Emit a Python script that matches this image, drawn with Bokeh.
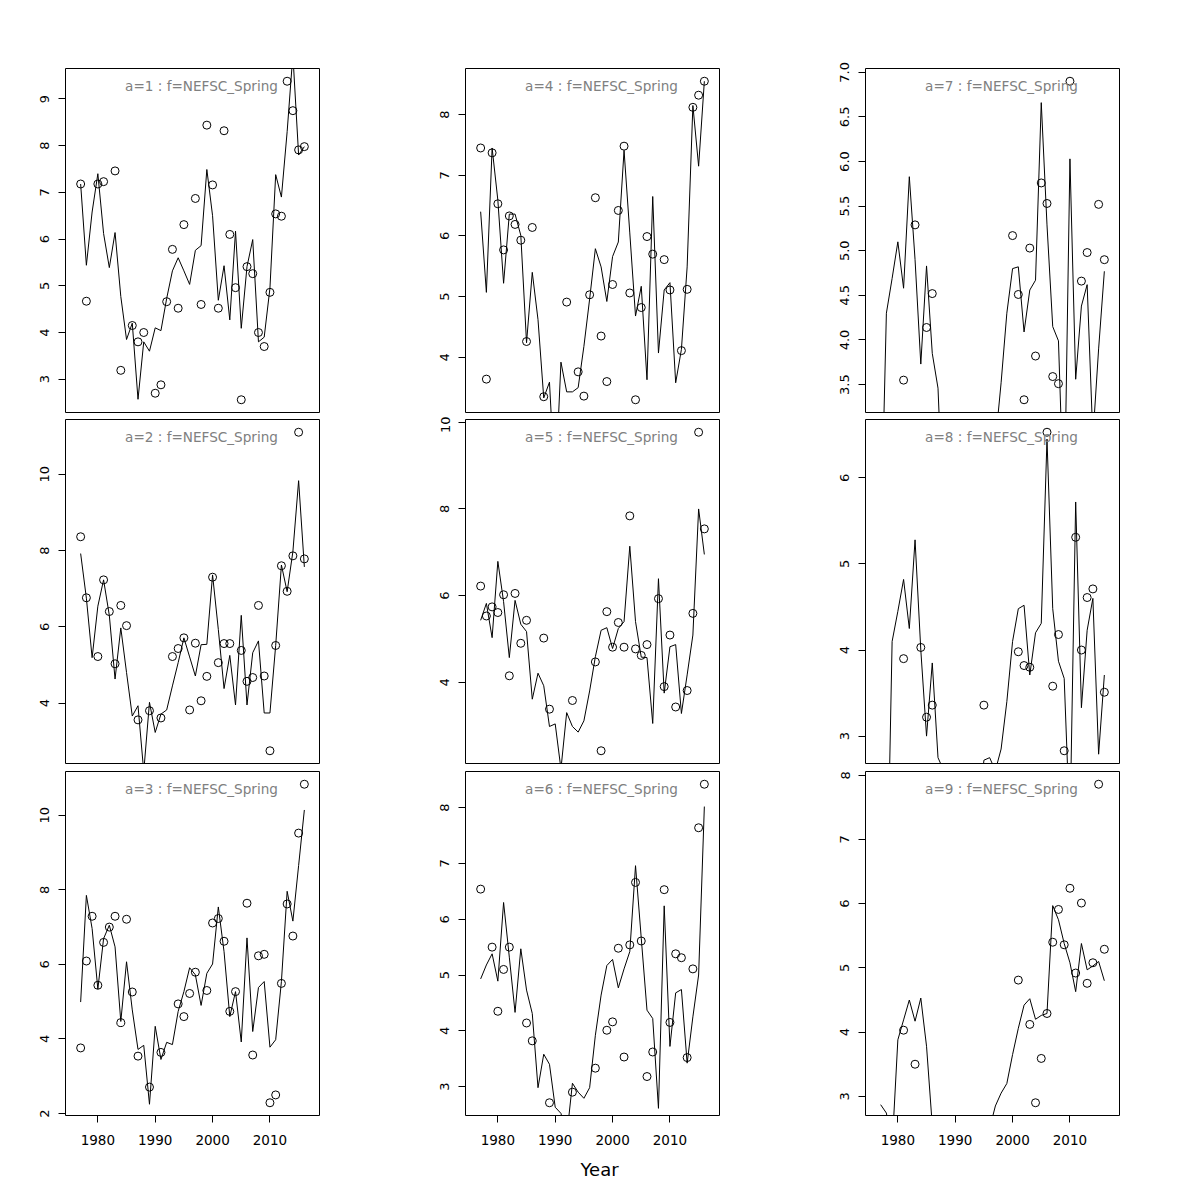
import numpy as np
from bokeh.plotting import figure
from bokeh.layouts import gridplot
from bokeh.models import Range1d, FixedTicker, Title
from bokeh.core.properties import value
from bokeh.embed import file_html
from bokeh.resources import INLINE

N = None
years = list(range(1977, 2017))
fleet = "NEFSC_Spring"
x_label = "Year"
x_ticks = [1980, 1990, 2000, 2010]

# ---- observed (points) and predicted (line) per age ----
obs_a1 = [7.18, 4.67, N, 7.18, 7.23, N, 7.46, 3.19, N, 4.15,
          3.80, 4.00, N, 2.70, 2.88, 4.66, 5.78, 4.52, 6.31, N,
          6.87, 4.60, 8.44, 7.16, 4.52, 8.32, 6.10, 4.96, 2.56, 5.41,
          5.26, 4.00, 3.70, 4.86, 6.54, 6.49, 9.38, 8.75, 7.91, 7.98]
pred_a1 = [7.18, 5.44, 6.58, 7.40, 6.12, 5.39, 6.14, 4.77, 3.85, 4.20,
           2.57, 3.80, 3.60, 4.10, 4.04, 4.73, 5.32, 5.60, 5.32, 5.03,
           5.76, 5.86, 7.49, 6.50, 4.69, 5.43, 4.27, 6.17, 4.09, 5.41,
           5.99, 3.80, 3.90, 4.95, 7.38, 6.90, 8.30, 9.95, 7.80, 7.98]

obs_a2 = [8.36, 6.76, N, 5.22, 7.23, 6.40, 5.03, 6.56, 6.03, N,
          3.56, N, 3.80, N, 3.61, N, 5.22, 5.43, 5.71, 3.82,
          5.57, 4.06, 4.70, 7.30, 5.06, 5.56, 5.56, N, 5.38, 4.57,
          4.67, 6.56, 4.71, 2.75, 5.51, 7.60, 6.93, 7.86, 11.10, 7.78]
pred_a2 = [7.92, 6.75, 5.19, 6.54, 7.23, 6.30, 4.63, 5.97, 4.80, 3.66,
           3.93, 2.20, 4.02, 3.23, 3.71, 3.82, 4.45, 5.06, 5.71, 5.21,
           4.71, 5.53, 5.54, 7.36, 5.93, 4.38, 5.25, 3.95, 6.30, 3.95,
           5.32, 5.63, 3.74, 3.74, 5.51, 7.62, 6.92, 7.97, 9.83, 7.57]

obs_a3 = [3.76, 6.09, 7.29, 5.44, 6.59, 7.00, 7.29, 4.44, 7.21, 5.26,
          3.54, N, 2.71, N, 3.64, N, N, 4.94, 4.60, 5.22,
          5.79, N, 5.30, 7.11, 7.23, 6.62, 4.74, 5.27, N, 7.64,
          3.57, 6.23, 6.27, 2.29, 2.50, 5.49, 7.62, 6.76, 9.52, 10.83]
pred_a3 = [4.99, 7.85, 6.96, 5.34, 6.69, 7.05, 6.47, 4.47, 6.07, 4.78,
           3.72, 3.83, 2.25, 4.34, 3.45, 3.91, 3.85, 4.74, 5.27, 5.91,
           5.72, 4.90, 5.76, 6.01, 7.54, 6.34, 4.60, 5.27, 3.92, 6.71,
           4.20, 5.38, 5.54, 3.78, 3.98, 5.54, 7.96, 7.16, 8.65, 10.14]

obs_a4 = [7.45, 3.64, 7.37, 6.53, 5.77, 6.33, 6.19, 5.93, 4.26, 6.14,
          N, 3.35, N, N, N, 4.91, N, 3.76, 3.36, 5.03,
          6.63, 4.35, 3.60, 5.20, 6.42, 7.48, 5.06, 3.30, 4.82, 5.99,
          5.70, N, 5.61, 5.11, N, 4.11, 5.12, 8.12, 8.32, 8.55]
pred_a4 = [6.40, 5.07, 7.45, 6.59, 5.22, 6.36, 6.36, 6.01, 4.24, 5.40,
           4.62, 3.33, 3.59, 1.80, 3.92, 3.43, 3.43, 3.50, 4.18, 4.96,
           5.79, 5.49, 4.92, 5.66, 5.90, 7.41, 6.05, 4.68, 5.17, 3.63,
           6.65, 4.07, 5.11, 5.23, 3.58, 4.13, 5.49, 8.15, 7.15, 8.55]

obs_a5 = [6.22, 5.53, 5.74, 5.61, 6.02, 4.15, 6.05, 4.90, 5.43, N,
          N, 5.02, 3.38, N, N, N, 3.58, N, N, N,
          4.47, 2.42, 5.63, 4.81, 5.38, 4.81, 7.84, 4.77, 4.62, 4.87,
          N, 5.93, 3.90, 5.09, 3.43, N, 3.81, 5.59, 9.77, 7.54]
pred_a5 = [5.43, 5.82, 5.03, 6.79, 5.86, 4.57, 5.89, 5.34, 5.17, 3.61,
           4.21, 3.92, 2.98, 3.04, 2.00, 3.30, 2.98, 2.85, 3.11, 3.80,
           4.59, 5.20, 5.26, 4.78, 5.24, 5.40, 7.14, 5.40, 4.58, 4.57,
           3.05, 6.39, 3.75, 4.82, 4.87, 3.28, 4.17, 5.09, 8.00, 6.95]

obs_a6 = [6.54, N, 5.50, 4.35, 5.10, 5.50, N, N, 4.14, 3.82,
          N, N, 2.71, N, N, N, 2.90, N, N, N,
          3.33, N, 4.01, 4.16, 5.48, 3.53, 5.54, 6.66, 5.61, 3.18,
          3.62, N, 6.53, 4.15, 5.38, 5.31, 3.52, 5.11, 7.64, 8.42]
pred_a6 = [4.93, 5.18, 5.38, 4.89, 6.30, 5.32, 4.33, 5.47, 4.73, 4.31,
           2.98, 3.58, 3.40, 2.63, 2.52, 2.10, 3.06, 2.90, 2.79, 2.98,
           3.92, 4.64, 5.17, 5.28, 4.77, 5.11, 5.42, 6.96, 5.66, 4.37,
           4.22, 2.61, 6.24, 3.72, 4.68, 4.74, 3.42, 4.25, 5.00, 8.02]

obs_a7 = [N, N, N, N, 3.55, N, 5.29, N, 4.14, 4.52,
          N, N, N, N, N, N, N, N, N, N,
          N, N, N, 5.17, 4.51, 3.33, 5.03, 3.82, 5.76, 5.53,
          3.59, 3.51, N, 6.90, N, 4.66, 4.98, N, 5.52, 4.90]
pred_a7 = [1.60, 4.30, 4.69, 5.10, 4.58, 5.83, 4.90, 3.73, 4.83, 3.85,
           3.46, 1.90, 1.50, 1.40, 1.40, 1.50, 1.50, 1.60, 1.80, 2.30,
           2.85, 3.52, 4.30, 4.80, 4.82, 4.09, 4.56, 4.67, 6.66, 5.29,
           4.15, 3.99, 2.00, 6.03, 3.56, 4.38, 4.62, 2.90, 3.90, 4.77]

obs_a8 = [N, N, N, N, 3.90, N, N, 4.03, 3.22, 3.36,
          N, N, N, N, N, N, N, N, 3.36, N,
          N, N, N, N, 3.98, 3.82, 3.80, N, N, 6.53,
          3.58, 4.18, 2.83, N, 5.31, 4.00, 4.61, 4.71, N, 3.51]
pred_a8 = [1.00, 0.70, 4.10, 4.45, 4.82, 4.25, 5.28, 4.00, 3.00, 3.85,
           2.75, 2.60, 2.00, 1.80, 1.80, 1.80, 1.90, 2.00, 2.72, 2.75,
           2.60, 2.85, 3.40, 4.10, 4.48, 4.52, 3.71, 4.20, 4.31, 6.45,
           4.48, 3.87, 3.67, 1.90, 5.72, 3.33, 4.23, 4.60, 2.79, 3.71]

obs_a9 = [N, N, N, N, 4.03, N, 3.50, N, N, N,
          N, N, N, N, N, N, N, N, N, N,
          N, N, N, N, 4.81, N, 4.12, 2.90, 3.59, 4.29,
          5.40, 5.91, 5.36, 6.24, 4.92, 6.01, 4.76, 5.08, 7.86, 5.29]
pred_a9 = [2.87, 2.74, 2.20, 3.88, 4.19, 4.50, 4.17, 4.53, 3.78, 2.55,
           2.00, 1.80, 1.70, 1.70, 1.70, 1.80, 1.90, 2.00, 2.20, 2.50,
           2.85, 3.05, 3.20, 3.65, 4.06, 4.42, 4.52, 4.20, 4.26, 4.29,
           5.97, 5.75, 5.38, 5.08, 4.63, 5.38, 4.97, 5.03, 5.10, 4.80]

# ---- y tick labels per age ----
yticks_a1 = ["3", "4", "5", "6", "7", "8", "9"]
yticks_a2 = ["4", "6", "8", "10"]
yticks_a3 = ["2", "4", "6", "8", "10"]
yticks_a4 = ["4", "5", "6", "7", "8"]
yticks_a5 = ["4", "6", "8", "10"]
yticks_a6 = ["3", "4", "5", "6", "7", "8"]
yticks_a7 = ["3.5", "4.0", "4.5", "5.0", "5.5", "6.0", "6.5", "7.0"]
yticks_a8 = ["3", "4", "5", "6"]
yticks_a9 = ["3", "4", "5", "6", "7", "8"]

panels = {
    1: (obs_a1, pred_a1, yticks_a1), 2: (obs_a2, pred_a2, yticks_a2),
    3: (obs_a3, pred_a3, yticks_a3), 4: (obs_a4, pred_a4, yticks_a4),
    5: (obs_a5, pred_a5, yticks_a5), 6: (obs_a6, pred_a6, yticks_a6),
    7: (obs_a7, pred_a7, yticks_a7), 8: (obs_a8, pred_a8, yticks_a8),
    9: (obs_a9, pred_a9, yticks_a9),
}

FONT = "DejaVu Sans"
FRAME_W, FRAME_H = 254, 344
LEFT = 65
col_right = [81, 81, 61]
row_top = [68, 3, 4]
row_bottom = [4, 4, 80]

# R-like axis ranges (4% padding)
xa, xb = years[0] - 1, years[-1] + 1
x0, x1 = xa - 0.04 * (xb - xa), xb + 0.04 * (xb - xa)


def make_panel(age, col, row):
    obs, pred, ylabs = panels[age]
    o = np.array([np.nan if v is None else v for v in obs], dtype=float)
    lo, hi = np.nanmin(o), np.nanmax(o)
    y0, y1 = lo - 0.04 * (hi - lo), hi + 0.04 * (hi - lo)
    bottom = row == 2
    p = figure(width=LEFT + FRAME_W + col_right[col],
               height=row_top[row] + FRAME_H + row_bottom[row],
               x_range=Range1d(x0, x1), y_range=Range1d(y0, y1),
               output_backend="svg", toolbar_location=None, tools="",
               x_axis_location="below" if bottom else None,
               min_border_left=LEFT, min_border_right=col_right[col],
               min_border_top=row_top[row], min_border_bottom=row_bottom[row])
    p.grid.visible = False
    p.outline_line_color = "black"
    p.outline_line_width = 1
    p.background_fill_color = "white"
    p.border_fill_color = "white"

    tvals = [float(t) for t in ylabs]
    ya = p.yaxis[0]
    ya.ticker = FixedTicker(ticks=tvals)
    ya.major_label_overrides = {t: s for t, s in zip(tvals, ylabs)}
    ya.bounds = (tvals[0], tvals[-1])
    ya.minor_tick_line_color = None
    ya.major_tick_in = 0
    ya.major_tick_out = 7
    ya.major_label_orientation = "vertical"
    ya.major_label_standoff = 9
    ya.major_label_text_font = FONT
    ya.major_label_text_font_size = "13px"
    ya.major_label_text_color = "black"
    ya.axis_line_color = "black"
    ya.major_tick_line_color = "black"

    if bottom:
        xaxis = p.xaxis[0]
        xaxis.ticker = FixedTicker(ticks=x_ticks)
        xaxis.bounds = (x_ticks[0], x_ticks[-1])
        xaxis.minor_tick_line_color = None
        xaxis.major_tick_in = 0
        xaxis.major_tick_out = 7
        xaxis.major_label_standoff = 12
        xaxis.major_label_text_font = FONT
        xaxis.major_label_text_font_size = "13.5px"
        xaxis.major_label_text_color = "black"
        xaxis.axis_line_color = "black"
        xaxis.major_tick_line_color = "black"

    p.line(years, pred, line_color="black", line_width=1)
    p.scatter(years, o, marker="circle", size=8, fill_color=None,
              line_color="black", line_width=1)

    tx = x0 + (136.0 / FRAME_W) * (x1 - x0)
    ty = y1 - (17.0 / FRAME_H) * (y1 - y0)
    p.text(x=[tx], y=[ty], text=[f"a={age} : f={fleet}"],
           text_font=value(FONT), text_font_size="13.6px", text_color="#808080",
           text_align="center", text_baseline="middle")

    if bottom and col == 1:
        t = Title(text=x_label, align="left", offset=115,
                  text_font=FONT, text_font_size="18px",
                  text_font_style="normal", text_color="black",
                  standoff=18)
        p.add_layout(t, "below")
    return p


grid = []
for row in range(3):
    r = []
    for col in range(3):
        age = col * 3 + row + 1
        r.append(make_panel(age, col, row))
    grid.append(r)

layout = gridplot(grid, toolbar_location=None)
open("out.html", "w").write(file_html(layout, INLINE))
